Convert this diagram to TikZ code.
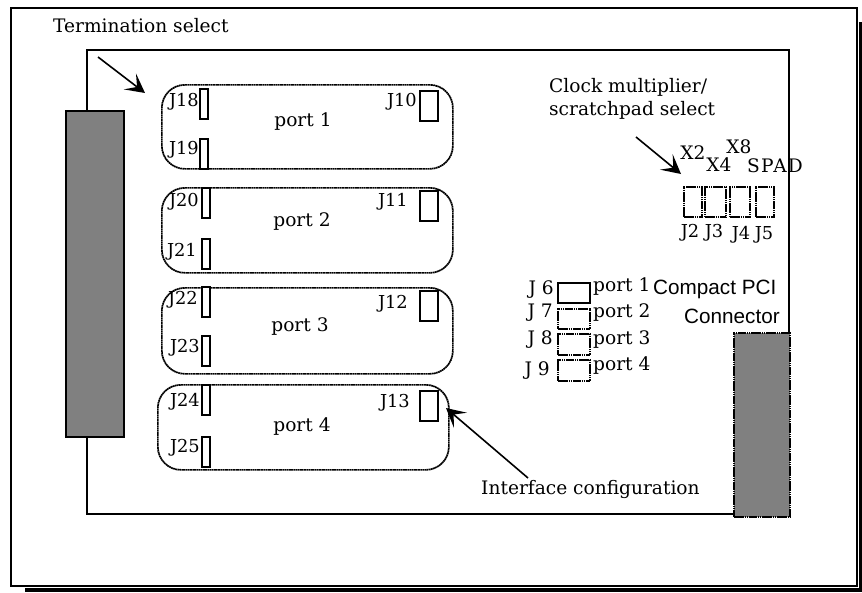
\documentclass[tikz,border=0pt]{standalone}
\usepackage{fontspec}
\setmainfont{DejaVu Serif}
\newfontfamily\sansf{Liberation Sans}
\usetikzlibrary{arrows.meta}
\tikzset{
 x=1pt,y=-1pt,
 solidline/.style={draw=black,line width=1.7pt},
 dotline/.style={draw=black,line width=1.7pt,dash pattern=on 1.7pt off 0.45pt},
 portbox/.style={dotline,rounded corners=23pt,minimum width=291pt,inner sep=0pt,anchor=north west},
 jumper/.style={draw=black,fill=white,line width=1.6pt,inner sep=0pt,anchor=north west},
 grayblock/.style={fill=gray,draw=black,inner sep=0pt,anchor=north west},
 lbl/.style={font=\fontsize{18.6}{22}\selectfont,inner sep=0pt,text=black},
 jlbl/.style={font=\fontsize{17.8}{22}\selectfont,inner sep=0pt,text=black},
 slbl/.style={font=\fontsize{20.7}{24}\sansf\selectfont,inner sep=0pt,text=black},
 ptr/.style={draw=black,line width=1.6pt,-{Stealth[length=19pt,width=20pt,inset=9pt]}}
}
\begin{document}
\begin{tikzpicture}
\useasboundingbox (0,0) rectangle (862,592);
\fill[white] (0,0) rectangle (862,592);
\draw[solidline] (11,8) rectangle (857,586);
\fill[black] (25,588) rectangle (862,592);
\fill[black] (859,22) rectangle (862,592);
% board
\draw[solidline] (87,50) -- (789,50) -- (789,514) -- (87,514) -- cycle;
\node[grayblock,line width=1.7pt,minimum width=58pt,minimum height=326pt] (left) at (65,110) {};
\node[grayblock,dotline,minimum width=56pt,minimum height=184pt] (pci) at (733,332) {};
% ports
\node[portbox,minimum height=84pt] (p1) at (161,84) {};
\node[portbox,minimum height=85pt] (p2) at (161,187) {};
\node[portbox,minimum height=86pt] (p3) at (161,287) {};
\node[portbox,minimum height=85pt] (p4) at (157,384) {};
\node[lbl] (lp1) at (303,122) {port 1};
\node[lbl] (lp2) at (302,222) {port 2};
\node[lbl] (lp3) at (300,327) {port 3};
\node[lbl] (lp4) at (302,427) {port 4};
% vertical jumpers
\foreach \n/\x/\y/\lx/\ly/\t in {a/199/88/199/102/J18,b/199/138/199/150/J19,c/201/187/199/202/J20,d/201/238/197/252/J21,e/201/286/198/300/J22,f/201/335/200/348/J23,g/201/384/200/402/J24,h/201/436/200/448/J25}{
  \node[jumper,minimum width=8pt,minimum height=30pt] (\n) at (\x,\y) {};
  \node[jlbl,anchor=east] (t\n) at (\lx,\ly) {\t};
}
\foreach \n/\y/\lx/\ly/\t in {k/90/417/102/J10,l/190/408/202/J11,m/290/408/304/J12,o/390/410/403/J13}{
  \node[jumper,minimum width=18pt,minimum height=30pt] (\n) at (419,\y) {};
  \node[jlbl,anchor=east] (t\n) at (\lx,\ly) {\t};
}
% clock jumpers
\foreach \n/\x/\w in {q/683/18,r/704/21,s/729/20,u/755/18}{
  \node[dotline,minimum width=\w pt,minimum height=30pt,inner sep=0pt,anchor=north west] (\n) at (\x,186) {};
}
\node[jlbl] (j2) at (690,233) {J2};
\node[jlbl] (j3) at (714,233) {J3};
\node[jlbl] (j4) at (741,235) {J4};
\node[jlbl] (j5) at (764,235) {J5};
\node[lbl] (x2) at (693,153) {X2};
\node[lbl] (x4) at (719,165) {X4};
\node[lbl] (x8) at (739,147) {X8};
\node[lbl] (spad) at (775,166) {\addfontfeature{LetterSpace=7}SPAD};
% config jumpers
\node[jumper,minimum width=32pt,minimum height=20pt] (j6b) at (557,282) {};
\foreach \n/\y/\h in {j7b/308/20,j8b/333/21,j9b/359/21}{
  \node[dotline,minimum width=32pt,minimum height=\h pt,inner sep=0pt,anchor=north west] (\n) at (557,\y) {};
}
\node[lbl,anchor=east] (j6) at (554,290) {J 6};
\node[lbl,anchor=east] (j7) at (553,313) {J 7};
\node[lbl,anchor=east] (j8) at (553,340) {J 8};
\node[lbl,anchor=east] (j9) at (550,371) {J 9};
\node[lbl,anchor=west] (q1) at (593,287) {port 1};
\node[lbl,anchor=west] (q2) at (593,313) {port 2};
\node[lbl,anchor=west] (q3) at (593,340) {port 3};
\node[lbl,anchor=west] (q4) at (593,366) {port 4};
\node[slbl,anchor=west] (cp) at (653,289) {Compact PCI};
\node[slbl,anchor=west] (cn) at (684,316) {Connector};
% captions
\node[lbl,anchor=west] (term) at (53,26) {Termination select};
\node[lbl,anchor=west] (clk1) at (549,87) {Clock multiplier/};
\node[lbl,anchor=west] (clk2) at (549,110) {scratchpad select};
\node[lbl,anchor=west] (ifc) at (481,489) {Interface configuration};
% arrows
\coordinate (a1s) at (98,57); \coordinate (a1e) at (145,93);
\coordinate (a2s) at (636,137); \coordinate (a2e) at (681,174);
\coordinate (a3s) at (528,478); \coordinate (a3e) at (446,408);
\draw[ptr] (a1s) -- (a1e);
\draw[ptr] (a2s) -- (a2e);
\draw[ptr] (a3s) -- (a3e);
\end{tikzpicture}
\end{document}
